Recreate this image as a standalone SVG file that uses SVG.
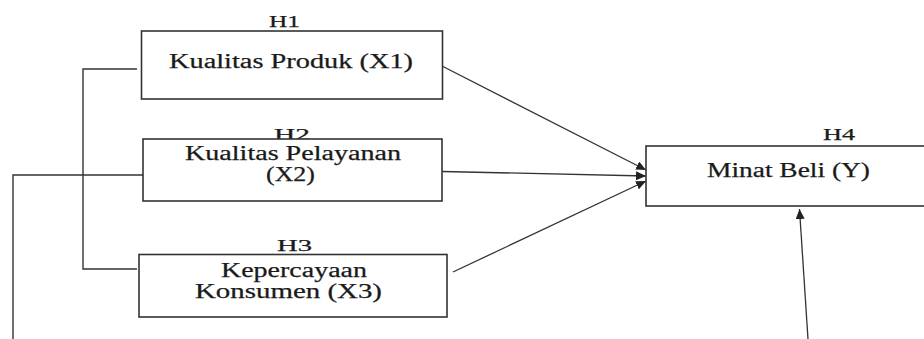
<svg xmlns="http://www.w3.org/2000/svg" width="924" height="339" viewBox="0 0 924 339">
  <defs>
    <marker id="arr" markerUnits="userSpaceOnUse" markerWidth="11" markerHeight="9" refX="10" refY="4.5" orient="auto">
      <path d="M0,0 L10,4.5 L0,9 z" fill="#222"/>
    </marker>
  </defs>
  <style>
    .box { fill: #fff; stroke: #333; stroke-width: 1.6; }
    .lbl { font-family: "Liberation Serif", "Times New Roman", serif; font-size: 20.5px; fill: #1a1a1a; stroke: #1a1a1a; stroke-width: 0.25; }
    .h { font-family: "Liberation Serif", "Times New Roman", serif; font-size: 16px; fill: #1a1a1a; stroke: #1a1a1a; stroke-width: 0.25; }
    .ln { fill: none; stroke: #333; stroke-width: 1.4; }
    .ar { fill: none; stroke: #333; stroke-width: 1.3; marker-end: url(#arr); }
  </style>
  <rect width="924" height="339" fill="#fff"/>

  <g id="connectors">
    <polyline class="ln" points="137,69 83,69 83,269 137,269"/>
    <polyline class="ln" points="143,175 13,175 13,339"/>
    <line class="ar" x1="442" y1="66" x2="646" y2="170"/>
    <line class="ar" x1="442" y1="171.5" x2="646" y2="176"/>
    <line class="ar" x1="453" y1="272" x2="646" y2="181"/>
    <line class="ar" x1="808" y1="339" x2="799.5" y2="209"/>
  </g>

  <g id="x1">
    <text class="h" x="269" y="27" textLength="31" lengthAdjust="spacingAndGlyphs">H1</text>
    <rect class="box" x="141.5" y="31" width="301" height="68"/>
    <text class="lbl" x="169" y="68" textLength="244" lengthAdjust="spacingAndGlyphs">Kualitas Produk (X1)</text>
  </g>

  <g id="x2">
    <text class="h" x="274" y="139.5" textLength="36" lengthAdjust="spacingAndGlyphs">H2</text>
    <rect class="box" x="143" y="139" width="299" height="62"/>
    <text class="lbl" x="185" y="160" textLength="216" lengthAdjust="spacingAndGlyphs">Kualitas Pelayanan</text>
    <text class="lbl" x="266" y="181" textLength="49" lengthAdjust="spacingAndGlyphs">(X2)</text>
  </g>

  <g id="x3">
    <text class="h" x="277" y="251" textLength="35" lengthAdjust="spacingAndGlyphs">H3</text>
    <rect class="box" x="139" y="254.5" width="308" height="62.5"/>
    <text class="lbl" x="221" y="277" textLength="146" lengthAdjust="spacingAndGlyphs">Kepercayaan</text>
    <text class="lbl" x="195" y="298" textLength="187" lengthAdjust="spacingAndGlyphs">Konsumen (X3)</text>
  </g>

  <g id="y">
    <text class="h" x="823" y="140" textLength="32" lengthAdjust="spacingAndGlyphs">H4</text>
    <rect class="box" x="646" y="146" width="290" height="60"/>
    <text class="lbl" x="707" y="177" textLength="163" lengthAdjust="spacingAndGlyphs">Minat Beli (Y)</text>
  </g>
</svg>
